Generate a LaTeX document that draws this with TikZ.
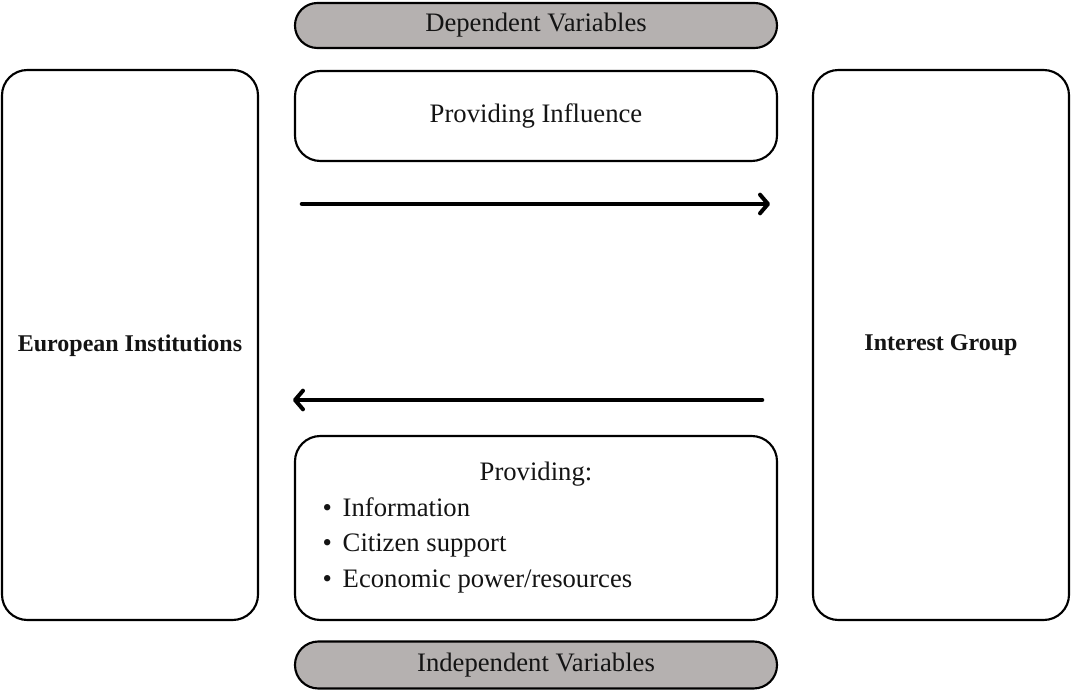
\documentclass[tikz,border=0pt]{standalone}
\usepackage{fontspec}
\setmainfont{Liberation Serif}
\usetikzlibrary{arrows.meta}
\definecolor{pillgray}{RGB}{181,177,176}
\definecolor{txt}{RGB}{20,20,20}
\begin{document}
\begin{tikzpicture}[x=0.75pt,y=-0.75pt,
  every node/.style={text=txt},
  frame/.style={draw=black, line width=1.6pt, rounded corners=19pt, fill=white, inner sep=0pt},
  pill/.style={draw=black, line width=1.6pt, fill=pillgray, inner sep=0pt, font=\fontsize{20}{24}\selectfont},
  label/.style={font=\fontsize{20}{24}\selectfont},
  blabel/.style={font=\fontsize{18}{22}\selectfont\bfseries},
  flow/.style={line width=3.4pt, line cap=round, -{Straight Barb[length=6pt,width=14pt,line width=3pt,line cap=round,round]}}
]
\useasboundingbox (0,0) rectangle (1071,691);
% side boxes
\node[frame, minimum width=192pt, minimum height=412.5pt] (eu) at (130,345) {};
\node[blabel] (eutext) at (130,345.5) {European Institutions};
\node[frame, minimum width=192pt, minimum height=412.5pt] (ig) at (941,345) {};
\node[blabel] (igtext) at (941,345.5) {Interest Group};
% top pill
\node[pill, minimum width=361.5pt, minimum height=33.75pt, rounded corners=16.8pt] (dep) at (536,25.5) {Dependent Variables};
% providing influence
\node[frame, label, minimum width=361.5pt, minimum height=67.5pt] (infl) at (536,116) {Providing Influence};
% bottom box
\node[frame, minimum width=361.5pt, minimum height=138pt] (prov) at (536,528) {};
\node[label] (provtitle) at (536,474.5) {Providing:};
\node[label, anchor=west, align=left, font=\fontsize{20}{26.6}\selectfont] (provlist) at (318,545)
  {•\hspace{8pt}Information\\ •\hspace{8pt}Citizen support\\ •\hspace{8pt}Economic power/resources};
% bottom pill
\node[pill, minimum width=361.5pt, minimum height=35.25pt, rounded corners=17.5pt] (indep) at (536,665) {Independent Variables};
% arrows
\coordinate (a1s) at (302,204);
\coordinate (a1e) at (770,204);
\coordinate (a2s) at (762,400);
\coordinate (a2e) at (293,400);
\draw[flow] (a1s) -- (a1e);
\draw[flow] (a2s) -- (a2e);
\end{tikzpicture}
\end{document}
